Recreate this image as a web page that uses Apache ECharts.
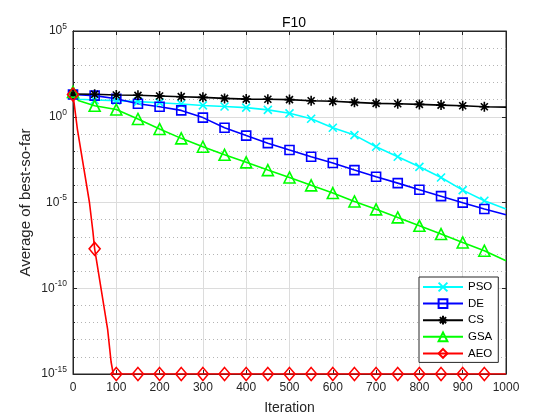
<!DOCTYPE html>
<html>
<head>
  <meta charset="utf-8">
  <title>F10</title>
  <script src="https://cdn.jsdelivr.net/npm/echarts@6/dist/echarts.min.js"></script>
  <style>
    html, body { margin: 0; padding: 0; background: #fff; }
    #main { width: 560px; height: 420px; }
  </style>
</head>
<body>
<div id="main"></div>
<script>
  // iterations where the markers sit (every 50)
  const iters = [0, 50, 100, 150, 200, 250, 300, 350, 400, 450, 500,
                 550, 600, 650, 700, 750, 800, 850, 900, 950, 1000];

  // log10 of the average best-so-far
  const psoLog = [1.25, 0.98, 0.94, 0.88, 0.82, 0.74, 0.66, 0.60, 0.53, 0.40, 0.20,
                  -0.12, -0.64, -1.07, -1.75, -2.33, -2.92, -3.54, -4.28, -4.90, -5.38];
  const deLog  = [1.30, 1.23, 1.05, 0.76, 0.58, 0.37, -0.05, -0.64, -1.10, -1.54, -1.94,
                  -2.33, -2.70, -3.11, -3.50, -3.87, -4.26, -4.63, -5.01, -5.38, -5.71];
  const csLog  = [1.33, 1.31, 1.27, 1.25, 1.21, 1.17, 1.13, 1.07, 1.03, 1.02, 1.00,
                  0.93, 0.90, 0.84, 0.78, 0.76, 0.72, 0.68, 0.64, 0.58, 0.56];
  const gsaLog = [1.45, 0.64, 0.42, -0.13, -0.71, -1.26, -1.75, -2.22, -2.66, -3.11, -3.54,
                  -4.00, -4.45, -4.94, -5.40, -5.87, -6.36, -6.84, -7.33, -7.81, -8.40];
  const aeoLog = [1.30, -7.70, -15, -15, -15, -15, -15, -15, -15, -15, -15,
                  -15, -15, -15, -15, -15, -15, -15, -15, -15, -15];

  // extra points along the lines (no marker), [iteration, log10 value]
  const psoExtra = [[15, 1.02]];
  const gsaExtra = [[12, 0.95]];
  const aeoExtra = [[10, -0.7], [38, -5.0], [46, -6.7], [80, -12.4], [88, -14.3], [93, -15]];

  function build(logs, extra) {
    const pts = iters.map(function (it, i) {
      const item = { value: [it, Math.pow(10, logs[i])] };
      if (it === 1000) item.symbol = 'none';
      return item;
    });
    extra.forEach(function (p) {
      pts.push({ value: [p[0], Math.pow(10, p[1])], symbol: 'none' });
    });
    pts.sort(function (a, b) { return a.value[0] - b.value[0]; });
    return pts;
  }

  const font = 'Liberation Sans, Arial, sans-serif';
  const ink = '#262626';

  function makeSeries(name, color, symbol, size, logs, extra) {
    return {
      name: name,
      type: 'line',
      data: build(logs, extra),
      symbol: symbol,
      symbolSize: size,
      showAllSymbol: true,
      lineStyle: { color: color, width: 1.6 },
      itemStyle: { color: 'rgba(0,0,0,0)', borderColor: color, borderWidth: 1.6 },
      emphasis: { disabled: true },
      animation: false
    };
  }

  const xPath = 'path://M0,0L10,10M10,0L0,10';
  const starPath = 'path://M5,0L5,10M0,5L10,5M1.5,1.5L8.5,8.5M8.5,1.5L1.5,8.5';

  const logY = {
    type: 'log',
    logBase: 10,
    min: 1e-15,
    max: 1e5
  };

  var myChart = echarts.init(document.getElementById('main'));

  var option = {
    backgroundColor: '#fff',
    textStyle: { fontFamily: font },
    title: {
      text: 'F10',
      left: 289,
      top: 11,
      textAlign: 'center',
      textStyle: { fontSize: 14, fontWeight: 'normal', color: '#000', fontFamily: font }
    },
    grid: {
      left: 73, right: 54, top: 31, bottom: 46,
      show: true, borderColor: ink, borderWidth: 1, backgroundColor: '#fff'
    },
    legend: {
      orient: 'vertical',
      left: 419,
      top: 277,
      itemWidth: 40,
      itemHeight: 11,
      itemGap: 4.6,
      padding: [4, 6, 3, 3],
      backgroundColor: '#fff',
      borderColor: ink,
      borderWidth: 1,
      borderRadius: 0,
      textStyle: { fontSize: 11.5, color: '#000', fontFamily: font },
      data: ['PSO', 'DE', 'CS', 'GSA', 'AEO']
    },
    xAxis: [
      {
        type: 'value',
        min: 0,
        max: 1000,
        interval: 100,
        name: 'Iteration',
        nameLocation: 'middle',
        nameGap: 27,
        nameTextStyle: { fontSize: 14, color: ink, fontFamily: font },
        axisLine: { show: true, onZero: false, lineStyle: { color: ink } },
        axisTick: { show: true, inside: true, length: 4, lineStyle: { color: ink } },
        axisLabel: {
          fontSize: 12, color: ink, margin: 8, fontFamily: font,
          formatter: function (v) { return String(v); }
        },
        splitLine: { show: true, lineStyle: { color: '#dcdcdc', width: 1 } }
      },
      {
        // top edge ticks only
        type: 'value',
        position: 'top',
        min: 0,
        max: 1000,
        interval: 100,
        axisLine: { show: true, onZero: false, lineStyle: { color: ink } },
        axisTick: { show: true, inside: true, length: 4, lineStyle: { color: ink } },
        axisLabel: { show: false },
        splitLine: { show: false }
      }
    ],
    yAxis: [
      Object.assign({}, logY, {
        // one line per decade, dotted
        interval: 1,
        position: 'left',
        axisLine: { show: true, lineStyle: { color: ink } },
        axisTick: { show: true, inside: true, length: 2, lineStyle: { color: ink } },
        axisLabel: { show: false },
        splitLine: { show: true, lineStyle: { color: '#b4b4b4', type: [1, 3], width: 1 } }
      }),
      Object.assign({}, logY, {
        // labelled ticks every five decades, solid
        interval: 5,
        position: 'left',
        name: 'Average of best-so-far',
        nameLocation: 'middle',
        nameGap: 40,
        nameMoveOverlap: false,
        nameTextStyle: { fontSize: 15, color: ink, fontFamily: font },
        axisLine: { show: true, lineStyle: { color: ink } },
        axisTick: { show: true, inside: true, length: 4, lineStyle: { color: ink } },
        axisLabel: {
          fontSize: 12,
          color: ink,
          margin: 6,
          formatter: function (v) {
            return '{b|10}{s|' + Math.round(Math.log10(v)) + '}';
          },
          rich: {
            b: { fontSize: 12, color: ink, fontFamily: font },
            s: { fontSize: 8.5, color: ink, fontFamily: font, padding: [0, 0, 9, 0] }
          }
        },
        splitLine: { show: true, lineStyle: { color: '#dcdcdc', width: 1 } }
      }),
      Object.assign({}, logY, {
        // right edge ticks only
        interval: 5,
        position: 'right',
        axisLine: { show: true, lineStyle: { color: ink } },
        axisTick: { show: true, inside: true, length: 4, lineStyle: { color: ink } },
        axisLabel: { show: false },
        splitLine: { show: false }
      })
    ],
    series: [
      makeSeries('PSO', '#00ffff', xPath, 8, psoLog, psoExtra),
      makeSeries('DE', '#0000ff', 'rect', 9, deLog, []),
      makeSeries('CS', '#000000', starPath, 10, csLog, []),
      makeSeries('GSA', '#00ff00', 'triangle', 11, gsaLog, gsaExtra),
      makeSeries('AEO', '#ff0000', 'diamond', [11, 13], aeoLog, aeoExtra)
    ]
  };

  myChart.setOption(option);
</script>
</body>
</html>
